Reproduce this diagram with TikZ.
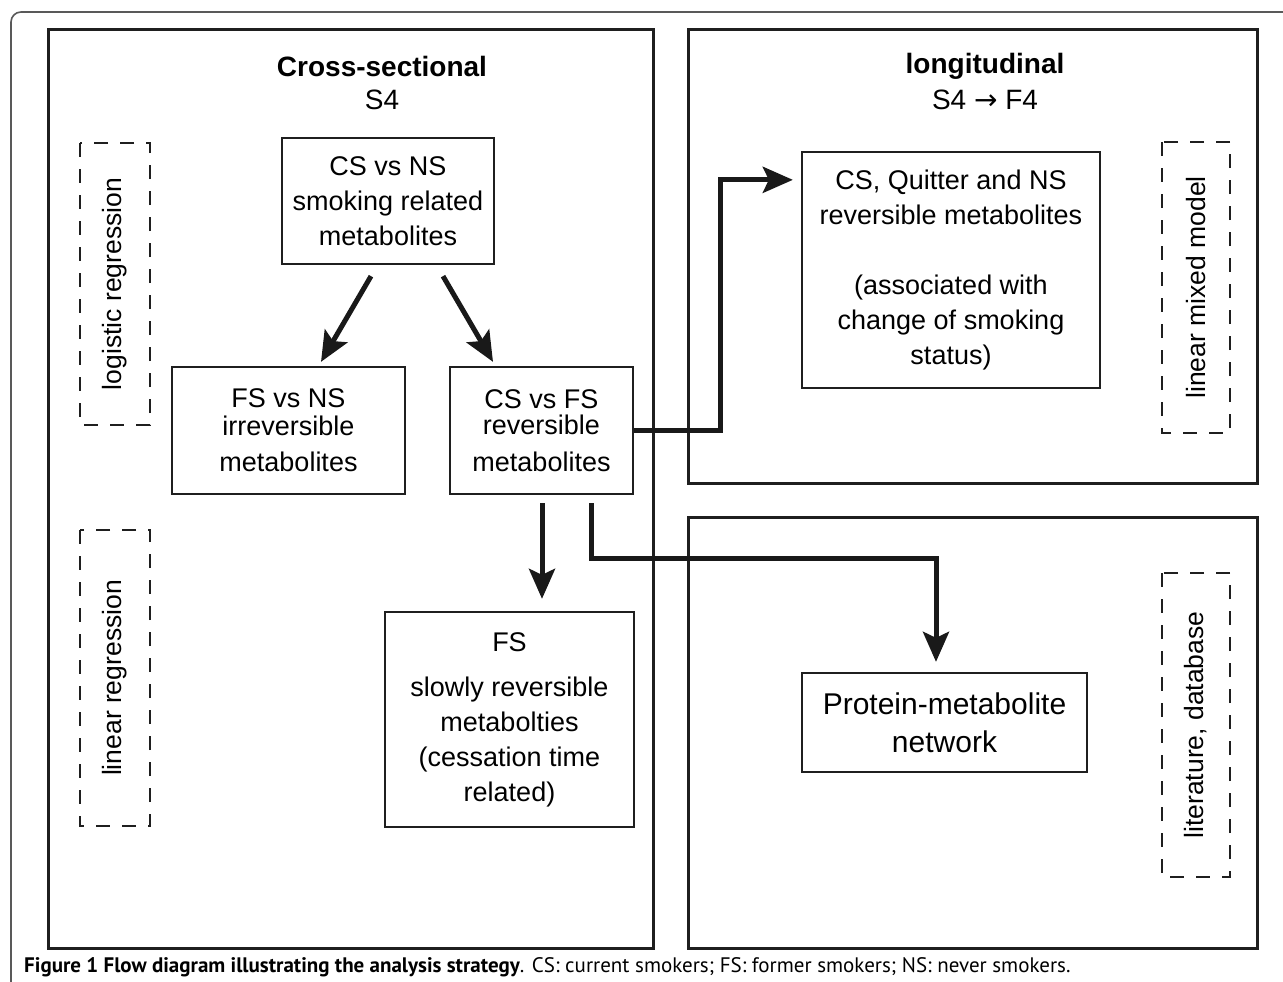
\documentclass[tikz,border=0pt]{standalone}
\usepackage{fontspec}
\setmainfont{Liberation Sans}
\newfontfamily\capfont{PT Sans}
\newfontfamily\arrfont{DejaVu Sans}
\usetikzlibrary{arrows.meta,calc}
\begin{document}
\begin{tikzpicture}[x=1pt,y=-1pt,
  panel/.style={draw=black!88,line width=3pt},
  box/.style={draw=black!88,line width=2.3pt,align=center,inner sep=0pt,font=\fontsize{27}{35}\selectfont},
  dbox/.style={draw=black!88,line width=2.5pt,dash pattern=on 14pt off 12pt,inner sep=0pt,rotate=90,font=\fontsize{26.5}{30}\selectfont},
  ttl/.style={font=\fontsize{28}{34}\selectfont\bfseries},
  sub/.style={font=\fontsize{28}{34}\selectfont},
  arr/.style={draw=black!90,line width=5pt,line join=miter,-{Stealth[length=30pt,width=26pt,inset=6pt]}}
]
\useasboundingbox (0,0) rectangle (1283,982);
% outer frame
\draw[black!65,line width=1.6pt,rounded corners=10pt] (1300,12) -- (11,12) -- (11,992) -- (1300,992);
% panels
\draw[panel] (48,30) rectangle (653,948);
\draw[panel] (688,30) rectangle (1257,483);
\draw[panel] (688,517) rectangle (1257,948);
% titles
\node[ttl] (t1) at (382,66) {Cross-sectional};
\node[sub] (t1s) at (382,100) {S4};
\node[ttl] (t2) at (985,66) {longitudinal};
\node[sub] (t2s) at (985,100) {S4 {\arrfont →} F4};
% boxes
\node[box,minimum width=212pt,minimum height=126pt] (csns) at (388,201) {CS vs NS\\smoking related\\metabolites};
\node[box,minimum width=233pt,minimum height=127pt,font=\fontsize{27}{31}\selectfont] (fsns) at (288.5,430.5) {FS vs NS\\[-3pt]irreversible\\[5pt]metabolites};
\node[box,minimum width=183pt,minimum height=127pt,font=\fontsize{27}{31}\selectfont] (csfs) at (541.5,430.5) {CS vs FS\\[-5pt]reversible\\[6pt]metabolites};
\node[box,minimum width=249pt,minimum height=215pt] (fsslow) at (509.5,719.5) {FS\\[10pt]slowly reversible\\metabolties\\(cessation time\\related)};
\node[box,minimum width=298pt,minimum height=236pt] (quit) at (951,270) {CS, Quitter and NS\\reversible metabolites\\[35pt](associated with\\change of smoking\\status)};
\node[box,minimum width=285pt,minimum height=99pt,font=\fontsize{30}{38}\selectfont] (prot) at (944.5,722.5) {Protein-metabolite\\network};
% dashed method boxes
\node[dbox,minimum width=282pt,minimum height=70pt] (logreg) at (115,284) {logistic regression};
\node[dbox,minimum width=296pt,minimum height=70pt] (linreg) at (115,678) {linear regression};
\node[dbox,minimum width=291pt,minimum height=68pt] (lmm) at (1196,287.5) {linear mixed model};
\node[dbox,minimum width=304pt,minimum height=68pt] (litdb) at (1196,725) {literature, database};
% arrows
\draw[arr] ($(csns.south)+(-17,11)$) -- ($(fsns.north)+(32.5,-4)$);
\draw[arr] ($(csns.south)+(55,11)$) -- ($(csfs.north)+(-48.5,-4)$);
\draw[arr] ($(csfs.south)+(0.5,8)$) -- ($(fsslow.north)+(32.5,-12)$);
\draw[arr] (csfs.east) -- ++(86,0) |- ($(quit.north west)+(-8,29)$);
\draw[arr] ($(csfs.south)+(49.5,8)$) -- ++(0,55) -| ($(prot.north)+(-8.5,-10)$);
% caption
\node[anchor=base west,inner sep=0pt,font=\capfont\fontsize{21}{25}\selectfont] (cap) at (24,972) {\textbf{Figure 1 Flow diagram illustrating the analysis strategy}. CS: current smokers; FS: former smokers; NS: never smokers.};
\end{tikzpicture}
\end{document}
